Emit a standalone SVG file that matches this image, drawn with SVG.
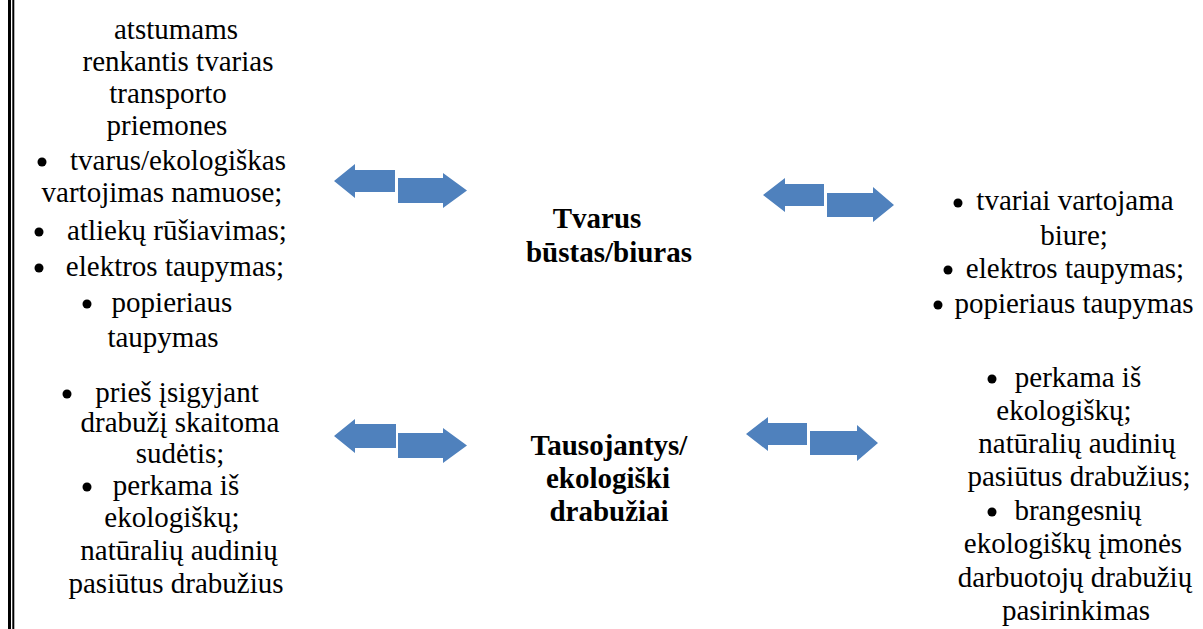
<svg xmlns="http://www.w3.org/2000/svg" width="1203" height="629" viewBox="0 0 1203 629">
<style>
text{font-family:'Liberation Serif','Times New Roman',serif;font-size:29px;fill:#000;text-anchor:middle}
.b{font-weight:bold}
.dot{fill:#000}
.arr{fill:#4F81BD}
</style>
<rect width="1203" height="629" fill="#fff"/>
<g id="border">
<rect x="8" y="0" width="3" height="629" fill="#000"/>
<rect x="12.3" y="0" width="2" height="629" fill="#000"/>
</g>
<g id="connectors">
<polygon class="arr" points="334,181 355,164 355,170 395,170 395,192 355,192 355,198"/>
<polygon class="arr" points="398,178 443,178 443,173 467,190.5 443,208 443,203 398,203"/>
<polygon class="arr" points="763,195 785,178 785,184 824,184 824,206 785,206 785,212"/>
<polygon class="arr" points="827,193 873,193 873,187 894,205 873,222 873,217 827,217"/>
<polygon class="arr" points="334,436 355,419 355,424 396,424 396,448 355,448 355,453"/>
<polygon class="arr" points="398,433 443,433 443,428 467,445.5 443,463 443,458 398,458"/>
<polygon class="arr" points="746,434 768,417 768,423 807,423 807,445 768,445 768,451"/>
<polygon class="arr" points="810,431 857,431 857,425 878,443 857,461 857,455 810,455"/>
</g>
<g id="left-top">
<text x="176" y="39">atstumams</text>
<text x="178" y="71">renkantis tvarias</text>
<text x="168" y="103">transporto</text>
<text x="167" y="135">priemones</text>
<circle class="dot" cx="42" cy="162" r="4.5"/>
<text x="178" y="170">tvarus/ekologiškas</text>
<text x="162" y="202">vartojimas namuose;</text>
<circle class="dot" cx="39" cy="232" r="4.5"/>
<text x="177" y="240">atliekų rūšiavimas;</text>
<circle class="dot" cx="39" cy="268" r="4.5"/>
<text x="175" y="276">elektros taupymas;</text>
<circle class="dot" cx="87" cy="304" r="4.5"/>
<text x="172" y="312">popieriaus</text>
<text x="163" y="347">taupymas</text>
</g>
<g id="center-top">
<text class="b" x="597" y="228">Tvarus</text>
<text class="b" x="609" y="262">būstas/biuras</text>
</g>
<g id="right-top">
<circle class="dot" cx="958" cy="203" r="4.5"/>
<text x="1075" y="210">tvariai vartojama</text>
<text x="1074" y="245">biure;</text>
<circle class="dot" cx="948" cy="270" r="4.5"/>
<text x="1075" y="278">elektros taupymas;</text>
<circle class="dot" cx="938" cy="305" r="4.5"/>
<text x="1074" y="313">popieriaus taupymas</text>
</g>
<g id="left-bottom">
<circle class="dot" cx="67" cy="394" r="4.5"/>
<text x="177" y="402">prieš įsigyjant</text>
<text x="180" y="432">drabužį skaitoma</text>
<text x="180" y="463">sudėtis;</text>
<circle class="dot" cx="87" cy="487" r="4.5"/>
<text x="176" y="495">perkama iš</text>
<text x="172" y="527">ekologiškų;</text>
<text x="179" y="560">natūralių audinių</text>
<text x="176" y="593">pasiūtus drabužius</text>
</g>
<g id="center-bottom">
<text class="b" x="609" y="455">Tausojantys/</text>
<text class="b" x="608" y="488">ekologiški</text>
<text class="b" x="609" y="521">drabužiai</text>
</g>
<g id="right-bottom">
<circle class="dot" cx="992" cy="379" r="4.5"/>
<text x="1078" y="387">perkama iš</text>
<text x="1064" y="420">ekologiškų;</text>
<text x="1077" y="453">natūralių audinių</text>
<text x="1079" y="486">pasiūtus drabužius;</text>
<circle class="dot" cx="992" cy="512" r="4.5"/>
<text x="1078" y="520">brangesnių</text>
<text x="1073" y="553">ekologiškų įmonės</text>
<text x="1075" y="587">darbuotojų drabužių</text>
<text x="1076" y="620">pasirinkimas</text>
</g>
</svg>
